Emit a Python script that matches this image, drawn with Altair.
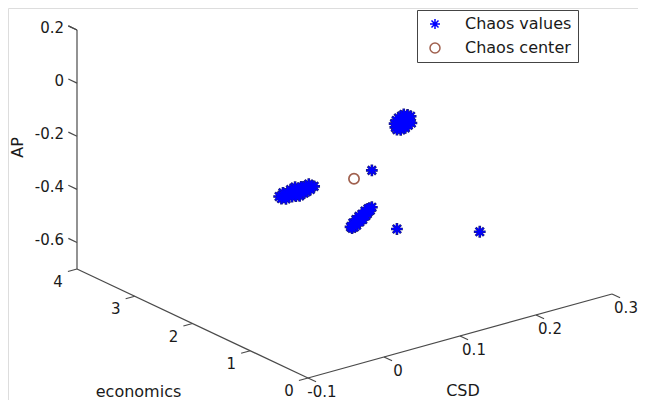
import altair as alt
import pandas as pd

# ---------------- data ----------------
# cluster 1 (upper right blob)
csd_a = [0.090, 0.091, 0.092, 0.093, 0.094, 0.095, 0.096, 0.097, 0.098, 0.099,
         0.100, 0.101, 0.101, 0.102, 0.103, 0.104, 0.105, 0.106, 0.107, 0.108,
         0.109, 0.110, 0.111, 0.112, 0.099, 0.105, 0.103, 0.095, 0.108, 0.097]
econ_a = [1.0] * 30
ap_a = [0.005, -0.010, 0.015, -0.020, 0.000, 0.022, -0.012, 0.010, -0.025, 0.026,
        -0.003, 0.014, -0.016, 0.030, 0.004, -0.022, 0.018, -0.008, 0.024, -0.015,
        0.008, -0.002, 0.016, -0.010, -0.006, 0.000, 0.020, -0.004, 0.012, 0.004]

# cluster 2 (left elongated blob)
csd_b = [0.014, 0.017, 0.019, 0.021, 0.023, 0.025, 0.027, 0.029, 0.031, 0.033,
         0.035, 0.037, 0.039, 0.041, 0.043, 0.045, 0.047, 0.049, 0.051, 0.053,
         0.055, 0.057, 0.060, 0.030, 0.040, 0.046, 0.024, 0.036, 0.050, 0.034]
econ_b = [2.0] * 30
ap_b = [-0.312, -0.322, -0.302, -0.317, -0.328, -0.306, -0.318, -0.298, -0.326, -0.310,
        -0.293, -0.322, -0.307, -0.331, -0.299, -0.315, -0.325, -0.304, -0.314, -0.296,
        -0.318, -0.307, -0.310, -0.312, -0.317, -0.301, -0.312, -0.328, -0.322, -0.302]

# cluster 3 (lower middle blob)
csd_c = [0.032, 0.034, 0.035, 0.037, 0.038, 0.039, 0.040, 0.041, 0.042, 0.043,
         0.044, 0.045, 0.046, 0.047, 0.048, 0.049, 0.050, 0.051, 0.052, 0.053,
         0.054, 0.055, 0.056, 0.057, 0.058, 0.060, 0.044, 0.050, 0.039, 0.054]
econ_c = [1.0] * 30
ap_c = [-0.338, -0.344, -0.326, -0.342, -0.328, -0.316, -0.338, -0.318, -0.326, -0.307,
        -0.329, -0.313, -0.322, -0.302, -0.323, -0.304, -0.312, -0.293, -0.312, -0.298,
        -0.306, -0.288, -0.298, -0.287, -0.296, -0.286, -0.310, -0.310, -0.330, -0.300]

# isolated chaos values
csd_s = [0.136, 0.093, 0.126]
econ_s = [2.0, 1.0, 0.0]
ap_s = [-0.310, -0.394, -0.328]

# chaos center
csd_ctr = [0.1125]
econ_ctr = [2.0]
ap_ctr = [-0.323]

# axes
csd_ticks = [-0.1, 0.0, 0.1, 0.2, 0.3]
csd_tick_labels = ["-0.1", "0", "0.1", "0.2", "0.3"]
econ_ticks = [0, 1, 2, 3, 4]
econ_tick_labels = ["0", "1", "2", "3", "4"]
ap_ticks = [0.2, 0.0, -0.2, -0.4, -0.6]
ap_tick_labels = ["0.2", "0", "-0.2", "-0.4", "-0.6"]
csd_range = (-0.1, 0.3)
econ_range = (0.0, 4.0)
ap_range = (-0.7, 0.2)
series_names = ["Chaos values", "Chaos center"]
axis_titles = ["CSD", "economics", "AP"]

# ---------------- 3D view projection ----------------
CSD_VEC = (304.0, 84.0)
ECON_VEC = (-231.0, 109.0)
AP_VEC = (0.0, 239.0)


def project(c, e, a):
    u = (c - csd_range[0]) / (csd_range[1] - csd_range[0])
    v = (e - econ_range[0]) / (econ_range[1] - econ_range[0])
    w = (a - ap_range[0]) / (ap_range[1] - ap_range[0])
    return (u * CSD_VEC[0] + v * ECON_VEC[0] + w * AP_VEC[0],
            u * CSD_VEC[1] + v * ECON_VEC[1] + w * AP_VEC[1])


def points(cs, es, as_, name):
    rows = []
    for c, e, a in zip(cs, es, as_):
        X, Y = project(c, e, a)
        rows.append({"series": name, "csd": c, "econ": e, "ap": a, "X": X, "Y": Y})
    return rows


pts = pd.DataFrame(points(csd_a, econ_a, ap_a, series_names[0])
                   + points(csd_b, econ_b, ap_b, series_names[0])
                   + points(csd_c, econ_c, ap_c, series_names[0])
                   + points(csd_s, econ_s, ap_s, series_names[0])
                   + points(csd_ctr, econ_ctr, ap_ctr, series_names[1]))
stars = pts[pts.series == series_names[0]]


def seg(p, q):
    X, Y = project(*p)
    X2, Y2 = project(*q)
    return {"X": X, "Y": Y, "X2": X2, "Y2": Y2}


c0, e0, a0 = csd_range[0], econ_range[0], ap_range[0]
e1 = econ_range[1]
lines = [
    seg((c0, e0, a0), (csd_range[1], e0, a0)),
    seg((c0, e0, a0), (c0, e1, a0)),
    seg((c0, e1, a0), (c0, e1, ap_range[1])),
]
for t in csd_ticks:
    lines.append(seg((t, e0, a0), (t, e0 - 0.14, a0)))
for t in econ_ticks:
    lines.append(seg((c0, t, a0), (c0 - 0.012, t, a0)))
for t in ap_ticks + [ap_range[1]]:
    lines.append(seg((c0, e1, t), (c0, e1 + 0.15, t)))
lines_df = pd.DataFrame(lines)


def labels(vals, texts, fn):
    rows = []
    for v, s in zip(vals, texts):
        X, Y = project(*fn(v))
        rows.append({"X": X, "Y": Y, "text": s})
    return pd.DataFrame(rows)


csd_lab = labels(csd_ticks, csd_tick_labels, lambda v: (v, e0, a0))
econ_lab = labels(econ_ticks, econ_tick_labels, lambda v: (c0, v, a0))
ap_lab = labels(ap_ticks, ap_tick_labels, lambda v: (c0, e1, v))

# axis titles anchored at the middle of each axis
mid_csd = sum(csd_range) / 2
mid_econ = sum(econ_range) / 2
mid_ap = sum(ap_range) / 2
t_csd_df = labels([mid_csd], [axis_titles[0]], lambda v: (v, e0, a0))
t_econ_df = labels([mid_econ], [axis_titles[1]], lambda v: (c0, v, a0))
t_ap_df = labels([mid_ap], [axis_titles[2]], lambda v: (c0, e1, v))

# ---------------- chart ----------------
W, H = 630, 392
xs = alt.Scale(domain=[-300, 330], zero=False, nice=False)
ys = alt.Scale(domain=[-22, 370], zero=False, nice=False)
FONT = "DejaVu Sans"
TXT = "#1a1a1a"
AX = "#4a4a4a"
STAR = "M-1,0L1,0M0,-1L0,1M-0.7,-0.7L0.7,0.7M-0.7,0.7L0.7,-0.7"

xenc = alt.X("X:Q", scale=xs, axis=None)
yenc = alt.Y("Y:Q", scale=ys, axis=None)

axis_lines = alt.Chart(lines_df).mark_rule(color=AX, strokeWidth=1.2).encode(
    x=xenc, y=yenc, x2="X2:Q", y2="Y2:Q")


def lab_layer(df, size=15, **kw):
    return alt.Chart(df).mark_text(font=FONT, fontSize=size, color=TXT, baseline="middle", **kw).encode(
        x=xenc, y=yenc, text="text:N")


csd_text = lab_layer(csd_lab, align="center", dx=14, dy=14)
econ_text = lab_layer(econ_lab, align="center", dx=-19, dy=13)
ap_text = lab_layer(ap_lab, align="right", dx=-13, dy=-2)
t_csd = lab_layer(t_csd_df, size=16, align="center", dx=3, dy=55)
t_econ = lab_layer(t_econ_df, size=16, align="center", dx=-54, dy=68)
t_ap = lab_layer(t_ap_df, size=16, align="center", angle=270, dx=2, dy=-59)

under = alt.Chart(stars).mark_point(filled=False, shape=STAR, size=140,
                                    strokeWidth=2.6, color="#1d1f7e", opacity=1).encode(
    x=xenc, y=yenc)

main = alt.Chart(pts).mark_point(filled=False, size=105, strokeWidth=1.7, opacity=1).encode(
    x=xenc, y=yenc,
    color=alt.Color("series:N", scale=alt.Scale(domain=series_names, range=["#0000ff", "#a0604e"]),
                    legend=alt.Legend(orient="none", legendX=409, legendY=2, title=None,
                                      strokeColor="#444", fillColor="white", padding=6,
                                      rowPadding=8, labelFont=FONT, labelFontSize=16,
                                      labelColor=TXT, symbolSize=100, symbolStrokeWidth=1.5,
                                      symbolOffset=4, labelOffset=22, cornerRadius=0)),
    shape=alt.Shape("series:N", scale=alt.Scale(domain=series_names, range=[STAR, "circle"]),
                    legend=alt.Legend(orient="none", legendX=409, legendY=2, title=None)),
)

chart = alt.layer(axis_lines, csd_text, econ_text, ap_text, t_econ, t_csd, t_ap, under, main).properties(
    width=W, height=H, autosize=alt.AutoSizeParams(type="none"), padding=0
).configure_view(stroke=None).configure(background="white")

chart.save("out.html", embed_options={"renderer": "svg", "actions": False})
